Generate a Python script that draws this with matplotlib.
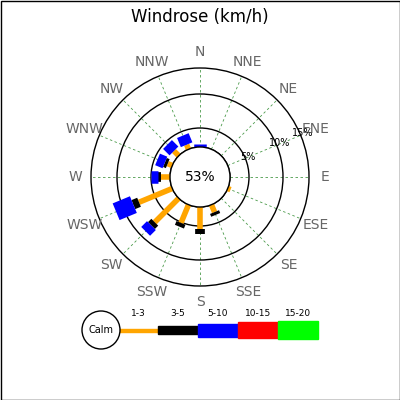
import numpy as np
import matplotlib.pyplot as plt
from matplotlib.patches import Circle, Rectangle

dirs = ['N', 'NNE', 'NE', 'ENE', 'E', 'ESE', 'SE', 'SSE',
        'S', 'SSW', 'SW', 'WSW', 'W', 'WNW', 'NW', 'NNW']
# cumulative % at end of each speed bin (1-3, 3-5, 5-10), 0 = no segment
b13 = [0, 0, 0, 0, 0, 0.8, 0, 2.1, 5.4, 5.1, 7.2, 7.5, 2.4, 1.3, 1.8, 1.3]
b35 = [0, 0, 0, 0, 0, 0, 0, 2.9, 6.2, 5.7, 7.9, 8.4, 3.2, 2.1, 1.8, 1.3]
b510 = [0.8, 0, 0, 0, 0, 0, 0, 0, 0, 0, 9.1, 11.5, 5.0, 4.2, 4.2, 3.9]
calm = '53%'
bins = ['1-3', '3-5', '5-10', '10-15', '15-20']
bin_colors = ['orange', 'black', 'blue', 'red', '#00ff00']
rings = [5, 10, 15]

cx, cy = 200, 177
ring_r = [30, 49, 83, 109]


def rad(p):
    return np.interp(p, [0] + rings, ring_r)


def pt(r, ang):
    a = np.deg2rad(ang)
    return cx + r * np.sin(a), cy - r * np.cos(a)


fig = plt.figure(figsize=(4, 4), dpi=100)
ax = fig.add_axes([0, 0, 1, 1])
ax.set_xlim(0, 400)
ax.set_ylim(400, 0)
ax.axis('off')
ax.add_patch(Rectangle((0.5, 0.5), 399, 399, fill=False, ec='black', lw=1))

for i, d in enumerate(dirs):
    ang = i * 22.5
    x0, y0 = pt(30, ang)
    x1, y1 = pt(109, ang)
    ax.plot([x0, x1], [y0, y1], color='#4a9a4a', ls=(0, (3, 3)), lw=0.6, zorder=1)
    lx, ly = pt(125, ang)
    ax.text(lx, ly, d, color='#666666', fontsize=10, ha='center', va='center')

for r in ring_r:
    ax.add_patch(Circle((cx, cy), r, fill=False, ec='black', lw=1, zorder=2))

for p in rings:
    lx, ly = pt(rad(p) + 3, 67)
    ax.text(lx, ly, '%d%%' % p, fontsize=7, ha='center', va='center', zorder=3)

widths = [4, 7, 9]
for i in range(len(dirs)):
    ang = i * 22.5
    start = 0
    for vals, c, w in zip([b13, b35, b510], bin_colors, widths):
        v = vals[i]
        if v > start:
            w2 = w + (4 if v > 11 else 0)
            x0, y0 = pt(rad(start), ang)
            x1, y1 = pt(rad(v), ang)
            ax.plot([x0, x1], [y0, y1], color=c, lw=w2, solid_capstyle='butt', zorder=4)
            start = v

ax.add_patch(Circle((cx, cy), 30, fc='white', ec='black', lw=1, zorder=5))
ax.text(cx, cy, calm, fontsize=10, ha='center', va='center', zorder=6)
ax.text(200, 17, 'Windrose (km/h)', fontsize=12, ha='center', va='center')

# legend
heights = [3, 8, 13, 16, 18]
for k, (lab, c, h) in enumerate(zip(bins, bin_colors, heights)):
    x = 118 + 40 * k
    ax.add_patch(Rectangle((x, 330 - h / 2), 40, h, color=c, zorder=2))
    ax.text(x + 20, 314, lab, fontsize=6.5, ha='center', va='center')
ax.add_patch(Circle((101, 330), 19, fc='white', ec='black', lw=1, zorder=3))
ax.text(101, 330, 'Calm', fontsize=7, ha='center', va='center', zorder=4)

fig.savefig('out.png', dpi=100)
